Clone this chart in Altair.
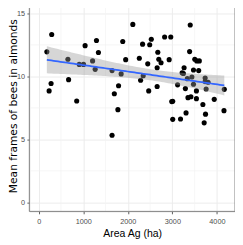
import altair as alt
import pandas as pd
import numpy as np

area = [182, 233, 291, 277, 655, 670, 852, 910, 1005, 1041, 1209, 1267, 1296, 1340,
        1646, 1646, 1697, 1777, 1792, 1850, 1886, 1952, 2112, 2258, 2287, 2331, 2345,
        2447, 2469, 2491, 2527, 2658, 2658, 2673, 2695, 2746, 2826, 2928, 2964, 2986,
        3008, 3008, 3117, 3183, 3219, 3248, 3263, 3292, 3307, 3336, 3350, 3387, 3401,
        3416, 3438, 3474, 3474, 3503, 3540, 3540, 3547, 3591, 3605, 3685, 3714, 3736,
        3736, 3744, 3758, 3802, 3940, 4159, 4166]
frames = [11.95, 8.85, 13.33, 9.44, 11.36, 9.74, 8.05, 10.95, 10.95, 12.44, 11.23, 10.56,
          12.85, 11.9, 5.33, 10.46, 8.62, 7.36, 9.26, 10.2, 12.77, 11.33, 14.13, 11.44,
          9.69, 12.56, 10.05, 11.0, 8.85, 12.51, 12.95, 10.69, 9.2, 11.92, 11.36, 11.08,
          13.13, 11.33, 13.13, 8.0, 8.03, 6.59, 9.33, 6.62, 10.28, 10.23, 10.69, 9.03,
          7.1, 9.82, 8.31, 11.97, 14.08, 8.38, 9.95, 9.38, 10.51, 11.36, 8.85, 8.23,
          11.23, 10.46, 11.23, 7.77, 6.31, 9.87, 9.59, 7.0, 9.0, 9.54, 8.18, 7.28, 8.97]

x_ticks = [0, 1000, 2000, 3000, 4000]
y_ticks = [0, 5, 10, 15]
x_minor = [500, 1500, 2500, 3500]
y_minor = [2.5, 7.5, 12.5]

df = pd.DataFrame({"area": area, "frames": frames})

# linear model fit with 95% confidence band (as geom_smooth(method="lm"))
x = np.array(area, float)
y = np.array(frames, float)
n = len(x)
b, a = np.polyfit(x, y, 1)
resid = y - (a + b * x)
s = np.sqrt((resid ** 2).sum() / (n - 2))
sxx = ((x - x.mean()) ** 2).sum()
gx = np.linspace(x.min(), x.max(), 80)
fit = a + b * gx
se = s * np.sqrt(1.0 / n + (gx - x.mean()) ** 2 / sxx)
t = 1.994
band = pd.DataFrame({"area": gx, "fit": fit, "lo": fit - t * se, "hi": fit + t * se})

W, H = 212, 213
xs = alt.Scale(domain=[-211, 4406], nice=False, zero=False)
ys = alt.Scale(domain=[-0.72, 15.69], nice=False, zero=False)

common = dict(domain=False, tickSize=2.5, tickColor="#333333", tickWidth=0.8,
              labelFontSize=7.5, labelColor="#4D4D4D", gridColor="#EBEBEB",
              gridWidth=1, titleColor="#000000", titleFontWeight="normal",
              labelFont="Liberation Sans", format="d", titleBaseline="alphabetic")
xaxis = alt.Axis(values=x_ticks, title="Area Ag (ha)", titleFontSize=10.8,
                 titleFont="Liberation Sans", titleY=26.3,
                 labelPadding=3.5, labelFlush=False, **common)
yaxis = alt.Axis(values=y_ticks, title="Mean frames of bees in almonds",
                 titleFontSize=11, titleFont="DejaVu Sans", titleX=-13.6, titleY=104,
                 labelPadding=2.5, **common)

minor_x = alt.Chart(pd.DataFrame({"v": x_minor})).mark_rule(
    color="#F2F2F2", strokeWidth=0.7).encode(x=alt.X("v:Q", scale=xs, axis=xaxis))
minor_y = alt.Chart(pd.DataFrame({"v": y_minor})).mark_rule(
    color="#F2F2F2", strokeWidth=0.7).encode(y=alt.Y("v:Q", scale=ys, axis=yaxis))

points = alt.Chart(df).mark_circle(size=28, color="black", opacity=1).encode(
    x=alt.X("area:Q", scale=xs, axis=xaxis),
    y=alt.Y("frames:Q", scale=ys, axis=yaxis),
)

area_band = alt.Chart(band).mark_area(color="#999999", opacity=0.4).encode(
    x=alt.X("area:Q", scale=xs, axis=xaxis),
    y=alt.Y("lo:Q", scale=ys, axis=yaxis),
    y2="hi:Q",
)

line = alt.Chart(band).mark_line(color="#3366FF", strokeWidth=1.8).encode(
    x=alt.X("area:Q", scale=xs, axis=xaxis),
    y=alt.Y("fit:Q", scale=ys, axis=yaxis),
)

border = alt.Chart(pd.DataFrame({"v": [0]})).mark_rect(
    filled=False, stroke="#7F7F7F", strokeWidth=1).encode(
    x=alt.value(0), x2=alt.value(W), y=alt.value(0), y2=alt.value(H))

chart = alt.layer(minor_x, minor_y, points, area_band, line, border).properties(
    width=W, height=H,
    autosize=alt.AutoSizeParams(type="none"),
    padding={"left": 22, "top": -7, "right": 0, "bottom": 31},
).configure_view(stroke=None).configure(background="white")

chart.save("out.html", embed_options={"renderer": "svg", "actions": False})
